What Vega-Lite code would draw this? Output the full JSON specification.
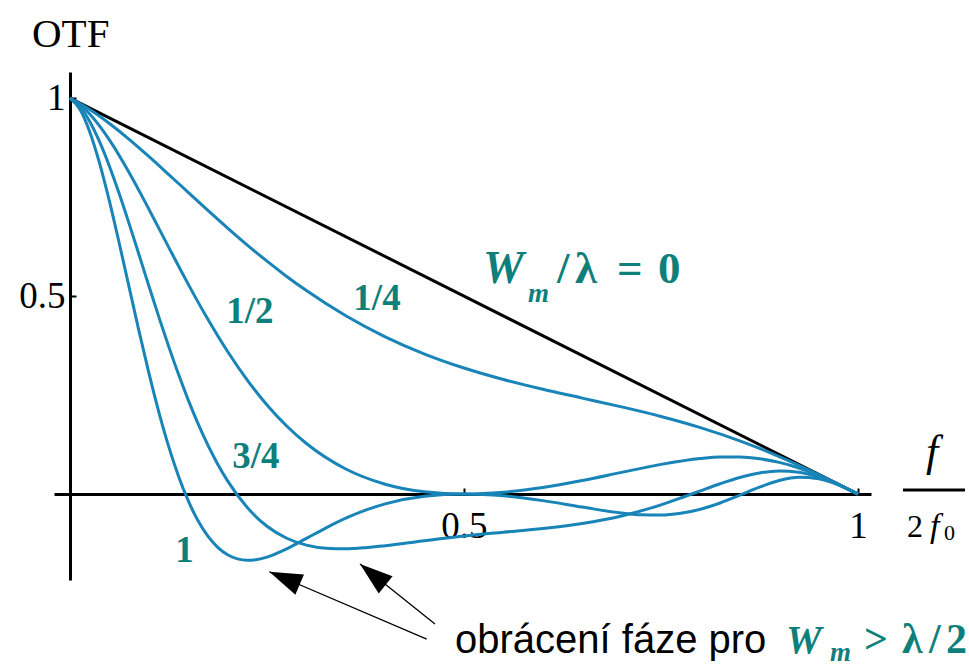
{
  "$schema": "https://vega.github.io/schema/vega-lite/v6.json",
  "width": 817,
  "height": 508,
  "autosize": {"type": "none"},
  "padding": {"left": 54, "top": 72, "right": 98, "bottom": 91},
  "background": "white",
  "config": {"view": {"stroke": null}, "axis": {"grid": false}},
  "datasets": {
    "curves": [
      {"w": "0", "x": 0, "y": 1}, {"w": "0", "x": 1, "y": 0},
      {"w": "1/4", "x": 0, "y": 1}, {"w": "1/4", "x": 0.025, "y": 0.9712}, {"w": "1/4", "x": 0.05, "y": 0.936}, {"w": "1/4", "x": 0.075, "y": 0.896}, {"w": "1/4", "x": 0.1, "y": 0.8528}, {"w": "1/4", "x": 0.125, "y": 0.8077}, {"w": "1/4", "x": 0.15, "y": 0.762}, {"w": "1/4", "x": 0.175, "y": 0.7164}, {"w": "1/4", "x": 0.2, "y": 0.6719}, {"w": "1/4", "x": 0.225, "y": 0.629}, {"w": "1/4", "x": 0.25, "y": 0.5882}, {"w": "1/4", "x": 0.275, "y": 0.5497}, {"w": "1/4", "x": 0.3, "y": 0.5139}, {"w": "1/4", "x": 0.35, "y": 0.4502}, {"w": "1/4", "x": 0.4, "y": 0.3971}, {"w": "1/4", "x": 0.45, "y": 0.3536}, {"w": "1/4", "x": 0.5, "y": 0.3183}, {"w": "1/4", "x": 0.55, "y": 0.2893}, {"w": "1/4", "x": 0.6, "y": 0.2647}, {"w": "1/4", "x": 0.65, "y": 0.2424}, {"w": "1/4", "x": 0.7, "y": 0.2202}, {"w": "1/4", "x": 0.75, "y": 0.1961}, {"w": "1/4", "x": 0.8, "y": 0.168}, {"w": "1/4", "x": 0.85, "y": 0.1345}, {"w": "1/4", "x": 0.9, "y": 0.0948}, {"w": "1/4", "x": 0.95, "y": 0.0493}, {"w": "1/4", "x": 1, "y": 0},
      {"w": "1/2", "x": 0, "y": 1}, {"w": "1/2", "x": 0.0125, "y": 0.9835}, {"w": "1/2", "x": 0.025, "y": 0.9598}, {"w": "1/2", "x": 0.05, "y": 0.8946}, {"w": "1/2", "x": 0.075, "y": 0.8122}, {"w": "1/2", "x": 0.1, "y": 0.72}, {"w": "1/2", "x": 0.125, "y": 0.6244}, {"w": "1/2", "x": 0.15, "y": 0.5303}, {"w": "1/2", "x": 0.175, "y": 0.4413}, {"w": "1/2", "x": 0.2, "y": 0.36}, {"w": "1/2", "x": 0.225, "y": 0.2878}, {"w": "1/2", "x": 0.25, "y": 0.2251}, {"w": "1/2", "x": 0.275, "y": 0.1719}, {"w": "1/2", "x": 0.3, "y": 0.1278}, {"w": "1/2", "x": 0.35, "y": 0.0634}, {"w": "1/2", "x": 0.4, "y": 0.0249}, {"w": "1/2", "x": 0.45, "y": 0.0056}, {"w": "1/2", "x": 0.5, "y": 0}, {"w": "1/2", "x": 0.55, "y": 0.0046}, {"w": "1/2", "x": 0.6, "y": 0.0166}, {"w": "1/2", "x": 0.65, "y": 0.0342}, {"w": "1/2", "x": 0.7, "y": 0.0548}, {"w": "1/2", "x": 0.75, "y": 0.075}, {"w": "1/2", "x": 0.8, "y": 0.09}, {"w": "1/2", "x": 0.825, "y": 0.0936}, {"w": "1/2", "x": 0.85, "y": 0.0936}, {"w": "1/2", "x": 0.875, "y": 0.0892}, {"w": "1/2", "x": 0.9, "y": 0.08}, {"w": "1/2", "x": 0.925, "y": 0.0659}, {"w": "1/2", "x": 0.95, "y": 0.0471}, {"w": "1/2", "x": 0.975, "y": 0.0246}, {"w": "1/2", "x": 1, "y": 0},
      {"w": "3/4", "x": 0, "y": 1}, {"w": "3/4", "x": 0.0125, "y": 0.9786}, {"w": "3/4", "x": 0.025, "y": 0.9411}, {"w": "3/4", "x": 0.0375, "y": 0.89}, {"w": "3/4", "x": 0.05, "y": 0.8281}, {"w": "3/4", "x": 0.0625, "y": 0.7583}, {"w": "3/4", "x": 0.075, "y": 0.683}, {"w": "3/4", "x": 0.0875, "y": 0.605}, {"w": "3/4", "x": 0.1, "y": 0.5263}, {"w": "3/4", "x": 0.1125, "y": 0.4489}, {"w": "3/4", "x": 0.125, "y": 0.3743}, {"w": "3/4", "x": 0.1375, "y": 0.3037}, {"w": "3/4", "x": 0.15, "y": 0.238}, {"w": "3/4", "x": 0.1625, "y": 0.1779}, {"w": "3/4", "x": 0.175, "y": 0.1237}, {"w": "3/4", "x": 0.1875, "y": 0.0755}, {"w": "3/4", "x": 0.2, "y": 0.0333}, {"w": "3/4", "x": 0.225, "y": -0.0341}, {"w": "3/4", "x": 0.25, "y": -0.0812}, {"w": "3/4", "x": 0.275, "y": -0.1115}, {"w": "3/4", "x": 0.3, "y": -0.1289}, {"w": "3/4", "x": 0.325, "y": -0.1368}, {"w": "3/4", "x": 0.35, "y": -0.1382}, {"w": "3/4", "x": 0.375, "y": -0.1354}, {"w": "3/4", "x": 0.4, "y": -0.1303}, {"w": "3/4", "x": 0.45, "y": -0.1178}, {"w": "3/4", "x": 0.5, "y": -0.1061}, {"w": "3/4", "x": 0.55, "y": -0.0964}, {"w": "3/4", "x": 0.6, "y": -0.0869}, {"w": "3/4", "x": 0.65, "y": -0.0744}, {"w": "3/4", "x": 0.7, "y": -0.0553}, {"w": "3/4", "x": 0.75, "y": -0.0271}, {"w": "3/4", "x": 0.775, "y": -0.0099}, {"w": "3/4", "x": 0.8, "y": 0.0083}, {"w": "3/4", "x": 0.825, "y": 0.0262}, {"w": "3/4", "x": 0.85, "y": 0.042}, {"w": "3/4", "x": 0.875, "y": 0.0535}, {"w": "3/4", "x": 0.9, "y": 0.0585}, {"w": "3/4", "x": 0.925, "y": 0.0554}, {"w": "3/4", "x": 0.95, "y": 0.0436}, {"w": "3/4", "x": 0.975, "y": 0.0241}, {"w": "3/4", "x": 1, "y": 0},
      {"w": "1", "x": 0, "y": 1}, {"w": "1", "x": 0.0125, "y": 0.9717}, {"w": "1", "x": 0.025, "y": 0.9152}, {"w": "1", "x": 0.0375, "y": 0.8358}, {"w": "1", "x": 0.05, "y": 0.7399}, {"w": "1", "x": 0.0625, "y": 0.6335}, {"w": "1", "x": 0.075, "y": 0.5226}, {"w": "1", "x": 0.0875, "y": 0.4122}, {"w": "1", "x": 0.1, "y": 0.3066}, {"w": "1", "x": 0.1125, "y": 0.209}, {"w": "1", "x": 0.125, "y": 0.1218}, {"w": "1", "x": 0.1375, "y": 0.0464}, {"w": "1", "x": 0.15, "y": -0.0167}, {"w": "1", "x": 0.1625, "y": -0.0674}, {"w": "1", "x": 0.175, "y": -0.1064}, {"w": "1", "x": 0.1875, "y": -0.1346}, {"w": "1", "x": 0.2, "y": -0.1533}, {"w": "1", "x": 0.2125, "y": -0.1637}, {"w": "1", "x": 0.225, "y": -0.1673}, {"w": "1", "x": 0.2375, "y": -0.1654}, {"w": "1", "x": 0.25, "y": -0.1592}, {"w": "1", "x": 0.275, "y": -0.1383}, {"w": "1", "x": 0.3, "y": -0.112}, {"w": "1", "x": 0.325, "y": -0.0852}, {"w": "1", "x": 0.35, "y": -0.0609}, {"w": "1", "x": 0.375, "y": -0.0406}, {"w": "1", "x": 0.4, "y": -0.0247}, {"w": "1", "x": 0.45, "y": -0.0056}, {"w": "1", "x": 0.5, "y": 0}, {"w": "1", "x": 0.55, "y": -0.0045}, {"w": "1", "x": 0.6, "y": -0.0165}, {"w": "1", "x": 0.65, "y": -0.0328}, {"w": "1", "x": 0.7, "y": -0.048}, {"w": "1", "x": 0.725, "y": -0.0525}, {"w": "1", "x": 0.75, "y": -0.0531}, {"w": "1", "x": 0.775, "y": -0.0486}, {"w": "1", "x": 0.8, "y": -0.0383}, {"w": "1", "x": 0.825, "y": -0.0226}, {"w": "1", "x": 0.85, "y": -0.0029}, {"w": "1", "x": 0.875, "y": 0.0174}, {"w": "1", "x": 0.9, "y": 0.0341}, {"w": "1", "x": 0.925, "y": 0.0424}, {"w": "1", "x": 0.95, "y": 0.0389}, {"w": "1", "x": 0.975, "y": 0.0235}, {"w": "1", "x": 1, "y": 0}
    ],
    "arrows": [
      {"id": "a1", "x": 0.2529, "y": -0.1962, "x2": 0.4527, "y2": -0.3662},
      {"id": "a2", "x": 0.368, "y": -0.1768, "x2": 0.4632, "y2": -0.3283}
    ],
    "bar": [{"x": 1.0571, "x2": 1.1358, "y": 0.0101}],
    "texts": [
      {"part": "curve", "label": "1/4", "x": 0.3896, "y": 0.4646},
      {"part": "curve", "label": "1/2", "x": 0.2284, "y": 0.4318},
      {"part": "curve", "label": "3/4", "x": 0.236, "y": 0.0657},
      {"part": "curve", "label": "1", "x": 0.1453, "y": -0.1717},
      {"part": "wbig", "label": "W", "x": 0.5241, "y": 0.5328},
      {"part": "wsub", "label": "m", "x": 0.5812, "y": 0.4848},
      {"part": "wrest", "label": "/", "x": 0.618, "y": 0.5328},
      {"part": "wrest", "label": "λ", "x": 0.6409, "y": 0.5328},
      {"part": "wrest", "label": "=", "x": 0.6942, "y": 0.5328},
      {"part": "wrest", "label": "0", "x": 0.7462, "y": 0.5328},
      {"part": "otf", "label": "OTF", "x": -0.0482, "y": 1.1288},
      {"part": "note", "label": "obrácení fáze pro", "x": 0.4886, "y": -0.4015},
      {"part": "wbot", "label": "W", "x": 0.9086, "y": -0.4015},
      {"part": "wsub", "label": "m", "x": 0.9645, "y": -0.4217},
      {"part": "gt", "label": ">", "x": 1.0076, "y": -0.4015},
      {"part": "gt", "label": "λ", "x": 1.0558, "y": -0.4015},
      {"part": "gt", "label": "/", "x": 1.0901, "y": -0.4015},
      {"part": "gt", "label": "2", "x": 1.1117, "y": -0.4015},
      {"part": "fnum", "label": "f", "x": 1.0939, "y": 0.0707},
      {"part": "fden2", "label": "2", "x": 1.0622, "y": -0.1086},
      {"part": "fdenf", "label": "f", "x": 1.0914, "y": -0.1086},
      {"part": "fsub", "label": "0", "x": 1.1092, "y": -0.1162}
    ]
  },
  "encoding": {
    "x": {
      "field": "x", "type": "quantitative", "title": null,
      "scale": {"domain": [-0.0203, 1.0165], "nice": false, "zero": false},
      "axis": {"offset": -86, "values": [0.5, 1], "format": "~g", "tickSize": -6, "tickWidth": 2, "tickColor": "black", "domainColor": "black", "domainWidth": 3, "labelFont": "Liberation Serif", "labelFontSize": 37, "labelColor": "black", "labelPadding": 49, "labelBaseline": "alphabetic", "labelFlush": false, "labelOverlap": false, "grid": false, "title": null}
    },
    "y": {
      "field": "y", "type": "quantitative", "title": null,
      "scale": {"domain": [-0.217, 1.066], "nice": false, "zero": false},
      "axis": {"offset": -16, "values": [0.5, 1], "format": "~g", "tickSize": -6, "tickWidth": 2, "tickColor": "black", "domainColor": "black", "domainWidth": 3, "labelFont": "Liberation Serif", "labelFontSize": 37, "labelColor": "black", "labelPadding": 11, "labelBaseline": "middle", "labelFlush": false, "labelOverlap": false, "grid": false, "title": null}
    }
  },
  "layer": [
    {
      "data": {"name": "curves"},
      "mark": {"type": "line", "interpolate": "monotone", "strokeWidth": 3},
      "encoding": {
        "color": {"field": "w", "type": "nominal", "legend": null, "scale": {"domain": ["0", "1/4", "1/2", "3/4", "1"], "range": ["#000000", "#1884b8", "#1884b8", "#1884b8", "#1884b8"]}},
        "detail": {"field": "w"}
      }
    },
    {
      "data": {"name": "arrows"},
      "mark": {"type": "rule", "color": "black", "strokeWidth": 1.3},
      "encoding": {"x2": {"field": "x2"}, "y2": {"field": "y2"}}
    },
    {
      "data": {"name": "arrows"},
      "transform": [{"filter": "datum.id == 'a1'"}],
      "mark": {"type": "point", "shape": "M0,0L0.667,2L-0.667,2Z", "size": 1089, "angle": 293, "filled": true, "color": "black", "opacity": 1, "strokeWidth": 0}
    },
    {
      "data": {"name": "arrows"},
      "transform": [{"filter": "datum.id == 'a2'"}],
      "mark": {"type": "point", "shape": "M0,0L0.667,2L-0.667,2Z", "size": 1089, "angle": 309, "filled": true, "color": "black", "opacity": 1, "strokeWidth": 0}
    },
    {
      "data": {"name": "bar"},
      "mark": {"type": "rule", "color": "black", "strokeWidth": 3},
      "encoding": {"x2": {"field": "x2"}}
    },
    {
      "data": {"name": "texts"},
      "transform": [{"filter": "datum.part == 'curve'"}],
      "mark": {"type": "text", "font": "Liberation Serif", "fontWeight": "bold", "fontSize": 37, "color": "#0f7f7b", "align": "center", "baseline": "alphabetic"},
      "encoding": {"text": {"field": "label"}}
    },
    {
      "data": {"name": "texts"},
      "transform": [{"filter": "datum.part == 'wbig'"}],
      "mark": {"type": "text", "font": "Liberation Serif", "fontWeight": "bold", "fontStyle": "italic", "fontSize": 46, "color": "#0f7f7b", "align": "left", "baseline": "alphabetic"},
      "encoding": {"text": {"field": "label"}}
    },
    {
      "data": {"name": "texts"},
      "transform": [{"filter": "datum.part == 'wsub'"}],
      "mark": {"type": "text", "font": "Liberation Serif", "fontWeight": "bold", "fontStyle": "italic", "fontSize": 27, "color": "#0f7f7b", "align": "left", "baseline": "alphabetic"},
      "encoding": {"text": {"field": "label"}}
    },
    {
      "data": {"name": "texts"},
      "transform": [{"filter": "datum.part == 'wrest'"}],
      "mark": {"type": "text", "font": "Liberation Serif", "fontWeight": "bold", "fontSize": 45, "color": "#0f7f7b", "align": "left", "baseline": "alphabetic"},
      "encoding": {"text": {"field": "label"}}
    },
    {
      "data": {"name": "texts"},
      "transform": [{"filter": "datum.part == 'wbot'"}],
      "mark": {"type": "text", "font": "Liberation Serif", "fontWeight": "bold", "fontStyle": "italic", "fontSize": 40, "color": "#0f7f7b", "align": "left", "baseline": "alphabetic"},
      "encoding": {"text": {"field": "label"}}
    },
    {
      "data": {"name": "texts"},
      "transform": [{"filter": "datum.part == 'gt'"}],
      "mark": {"type": "text", "font": "Liberation Serif", "fontWeight": "bold", "fontSize": 42, "color": "#0f7f7b", "align": "left", "baseline": "alphabetic"},
      "encoding": {"text": {"field": "label"}}
    },
    {
      "data": {"name": "texts"},
      "transform": [{"filter": "datum.part == 'note'"}],
      "mark": {"type": "text", "font": "Liberation Sans", "fontSize": 40, "color": "black", "align": "left", "baseline": "alphabetic"},
      "encoding": {"text": {"field": "label"}}
    },
    {
      "data": {"name": "texts"},
      "transform": [{"filter": "datum.part == 'otf'"}],
      "mark": {"type": "text", "font": "Liberation Serif", "fontSize": 41, "color": "black", "align": "left", "baseline": "alphabetic"},
      "encoding": {"text": {"field": "label"}}
    },
    {
      "data": {"name": "texts"},
      "transform": [{"filter": "datum.part == 'fnum'"}],
      "mark": {"type": "text", "font": "Liberation Serif", "fontStyle": "italic", "fontSize": 44, "color": "black", "align": "center", "baseline": "alphabetic"},
      "encoding": {"text": {"field": "label"}}
    },
    {
      "data": {"name": "texts"},
      "transform": [{"filter": "datum.part == 'fden2'"}],
      "mark": {"type": "text", "font": "Liberation Serif", "fontSize": 32, "color": "black", "align": "left", "baseline": "alphabetic"},
      "encoding": {"text": {"field": "label"}}
    },
    {
      "data": {"name": "texts"},
      "transform": [{"filter": "datum.part == 'fdenf'"}],
      "mark": {"type": "text", "font": "Liberation Serif", "fontStyle": "italic", "fontSize": 34, "color": "black", "align": "left", "baseline": "alphabetic"},
      "encoding": {"text": {"field": "label"}}
    },
    {
      "data": {"name": "texts"},
      "transform": [{"filter": "datum.part == 'fsub'"}],
      "mark": {"type": "text", "font": "Liberation Serif", "fontSize": 22, "color": "black", "align": "left", "baseline": "alphabetic"},
      "encoding": {"text": {"field": "label"}}
    }
  ]
}
